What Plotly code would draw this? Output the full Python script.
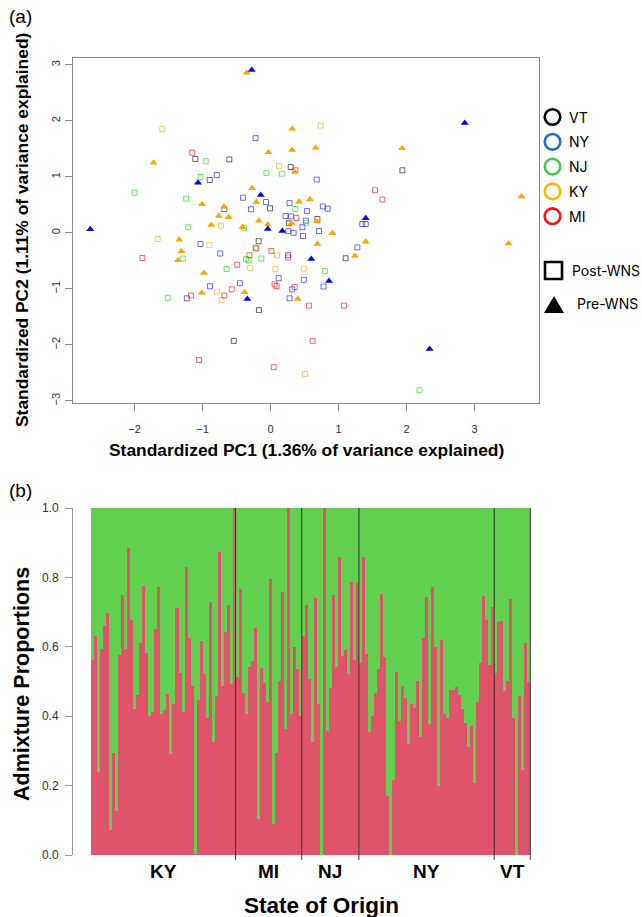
import plotly.graph_objects as go

W, H = 642, 917

# ---------------- Panel (a) PCA data ----------------
vt_post_pc1 = [-1.106, -0.606, 0.297, -0.894, -0.007, 0.27, 0.69, 1.94, -0.174, 1.105, -0.17, -0.54]
vt_post_pc2 = [1.32, 1.31, 1.175, 0.943, 0.437, 0.17, 0.246, 1.116, -0.15, -0.455, -1.38, -1.93]

ny_post_pc1 = [-0.22, -0.79, 0.68, -0.404, -0.066, -0.287, -0.68, 0.28, 0.536, 0.22, 0.30, 0.52,
               0.77, 0.84, 1.35, 1.40, 0.26, 0.34, 0.47, 0.478, 0.713, 1.277, 0.26, 0.78, 0.12,
               0.49, 0.32, 0.28, -1.03, -0.74, -0.45, -0.89, -1.23]
ny_post_pc2 = [1.69, 1.03, 0.95, 0.627, 0.55, 0.42, 0.425, 0.53, 0.39, 0.30, 0.294, 0.216,
               0.47, 0.43, 0.157, 0.157, 0.03, 0.0, 0.1, -0.057, 0.032, -0.26, -0.40, -0.96, -0.81,
               -0.84, -1.01, -1.17, -0.20, -0.37, -0.90, -0.955, -1.17]
ny_pre_pc1 = [-0.276, -1.066, -0.144, -0.04, 0.174, 1.40, 0.60, 0.86, -0.34, 2.856, 2.34, -2.65]
ny_pre_pc2 = [2.906, 0.895, 0.675, 0.07, 0.032, 0.26, -0.47, -0.86, -1.18, 1.96, -2.075, 0.065]

nj_post_pc1 = [-0.953, -0.06, 0.165, -1.03, -2.0, -1.24, -0.39, -1.21, 0.365, 0.52, -0.22,
               -0.36, -0.32, -0.135, 0.80, -1.29, -0.645, -1.51, 2.19]
nj_post_pc2 = [1.277, 1.07, 1.055, 0.996, 0.716, 0.61, 0.09, 0.10, 0.425, 0.18, -0.265,
               -0.47, -0.49, -0.46, -0.68, -0.46, -0.646, -1.16, -2.81]

mi_post_pc1 = [-1.15, 0.365, 0.38, 1.537, 1.645, -0.31, 0.012, 0.26, 0.06, 0.09, 0.356, 0.566,
               1.08, 0.62, 0.047, -1.885, -0.49, -0.57, -0.68, -1.17, -1.05, -0.21]
mi_post_pc2 = [1.43, 1.116, 0.264, 0.76, 0.595, -0.40, -0.325, -0.44, -0.92, -0.95, -0.97, -1.30,
               -1.30, -1.93, -2.40, -0.45, -0.57, -1.01, -1.12, -1.12, -2.27, -0.28]

ky_post_pc1 = [-1.59, 0.125, 0.738, -0.728, 0.096, -0.30, 0.07, 0.49, 0.51, -1.66, -0.90, -0.79, -0.72]
ky_post_pc2 = [1.85, 1.19, 1.915, 0.127, -0.40, -0.63, -0.646, -0.64, -2.52, -0.11, -0.22, -1.05, -1.20]
ky_pre_pc1 = [-0.35, -1.72, -0.03, 0.32, 0.316, 0.665, 0.356, -1.007, -0.27, -0.208, -0.684, -0.76,
              -0.615, -0.87, -0.41, -0.17, -0.04, 0.42, 0.58, 0.31, 0.685, 1.934, 3.69, 0.91, 0.69,
              1.40, 1.24, 3.50, 0.40, -0.38, -1.34, -1.31, -1.36, -0.98, -1.01]
ky_pre_pc2 = [2.86, 1.25, 1.44, 1.86, 1.48, 1.52, 1.086, 0.51, 0.795, 0.55, 0.466, 0.30,
              0.277, 0.14, 0.10, 0.216, 0.15, 0.556, 0.60, 0.17, 0.20, 1.51, 0.65, -0.01, -0.2,
              -0.16, -0.41, -0.19, -1.18, -1.06, -0.125, -0.33, -0.49, -0.72, -1.07]

pc_ticks_x = [-2, -1, 0, 1, 2, 3]
pc_ticks_y = [-3, -2, -1, 0, 1, 2, 3]

# ---------------- Panel (b) admixture data ----------------
states = ["KY", "MI", "NJ", "NY", "VT"]
ky_admix = [0.561, 0.632, 0.240, 0.593, 0.660, 0.696, 0.072, 0.295, 0.128, 0.576, 0.749, 0.595,
            0.886, 0.677, 0.422, 0.461, 0.612, 0.775, 0.583, 0.400, 0.411, 0.651, 0.772, 0.406,
            0.419, 0.464, 0.292, 0.435, 0.712, 0.525, 0.411, 0.830, 0.624, 0.486, 0.002, 0.447,
            0.618, 0.522, 0.396, 0.728, 0.327, 0.457, 0.874, 0.487, 0.642, 0.721, 0.493, 1.0]
mi_admix = [0.513, 0.766, 0.466, 0.406, 0.542, 0.559, 0.655, 0.103, 0.538, 0.497, 0.441, 0.795,
            0.088, 0.293, 0.502, 0.757, 0.362, 1.0, 0.406, 0.600, 0.537, 0.402]
nj_admix = [0.630, 0.721, 0.508, 0.327, 0.740, 0.435, 0.0, 1.0, 0.358, 0.482, 0.750, 0.543,
            0.859, 0.574, 0.591, 0.523, 0.786, 0.562, 0.785]
ny_admix = [0.554, 0.860, 0.579, 0.354, 0.401, 0.467, 0.536, 0.752, 0.571, 0.169, 0.0, 0.215,
            0.527, 0.385, 0.486, 0.452, 0.321, 0.434, 0.423, 0.501, 0.339, 0.626, 0.744, 0.378,
            0.772, 0.600, 0.199, 0.621, 0.406, 0.396, 0.475, 0.475, 0.484, 0.461, 0.420, 0.379,
            0.311, 0.371, 0.208, 0.441, 0.554, 0.745, 0.676, 0.548, 0.714]
vt_admix = [0.525, 0.671, 0.673, 0.474, 0.501, 0.738, 0.394, 0.0, 0.457, 0.245, 0.612, 0.500]
admix_ticks = [0.0, 0.2, 0.4, 0.6, 0.8, 1.0]

legend_states = ["VT", "NY", "NJ", "KY", "MI"]
legend_colors = ["#000000", "#1f6fc5", "#45c845", "#ffb800", "#ff1010"]

# ---------------- helpers ----------------
def px(X):
    return X / W

def py(Y):
    return 1 - Y / H

fig = go.Figure()

sq_groups = [
    (ky_post_pc1, ky_post_pc2, "rgba(255,165,0,0.6)"),
    (ny_post_pc1, ny_post_pc2, "rgba(0,0,255,0.58)"),
    (nj_post_pc1, nj_post_pc2, "rgba(0,225,0,0.6)"),
    (mi_post_pc1, mi_post_pc2, "rgba(255,0,0,0.6)"),
    (vt_post_pc1, vt_post_pc2, "rgba(0,0,0,0.6)"),
]
for xs, ys, col in sq_groups:
    fig.add_trace(go.Scatter(x=xs, y=ys, mode="markers", xaxis="x", yaxis="y",
                             marker=dict(symbol="square-open", size=5, color=col,
                                         line=dict(width=1, color=col)),
                             hoverinfo="skip"))
tri_groups = [
    (ky_pre_pc1, ky_pre_pc2, "#ffa500"),
    (ny_pre_pc1, ny_pre_pc2, "#0000ff"),
]
for xs, ys, col in tri_groups:
    fig.add_trace(go.Scatter(x=xs, y=ys, mode="markers", xaxis="x", yaxis="y",
                             marker=dict(symbol="triangle-up", size=7, color=col,
                                         line=dict(width=0)),
                             hoverinfo="skip"))

# ---------------- bars ----------------
groups = [ky_admix, mi_admix, nj_admix, ny_admix, vt_admix]
red_vals = [v for g in groups for v in g]
green_vals = [1 - v for v in red_vals]
idx = list(range(len(red_vals)))
fig.add_trace(go.Bar(x=idx, y=red_vals, xaxis="x2", yaxis="y2", marker=dict(color="#DF536B", line=dict(width=0)),
                     hoverinfo="skip"))
fig.add_trace(go.Bar(x=idx, y=green_vals, xaxis="x2", yaxis="y2", marker=dict(color="#61D04F", line=dict(width=0)),
                     hoverinfo="skip"))

shapes = []
annotations = []
start = 0
for name, g in zip(states, groups):
    end = start + len(g)
    shapes.append(dict(type="line", xref="x2", yref="y2 domain", x0=end - 0.5, x1=end - 0.5,
                       y0=-0.014, y1=1, line=dict(color="#333333", width=1)))
    annotations.append(dict(x=(start + end - 1) / 2, y=py(871), xref="x2", yref="paper",
                            text="<b>%s</b>" % name, showarrow=False,
                            xanchor="center", yanchor="middle",
                            font=dict(size=19, color="black", family="Liberation Sans, Arial")))
    start = end
n_total = start

# ---------------- axes ----------------
axis_font = dict(size=11, color="#333333", family="Liberation Sans, Arial")
x0_b = -0.5 - (91.3 - 73) / (439.0 / n_total)
x1_b = x0_b + (548 - 73) / (439.0 / n_total)

fig.update_layout(
    template="none",
    width=W, height=H, margin=dict(l=0, r=0, t=0, b=0, pad=0), autosize=False,
    paper_bgcolor="white", plot_bgcolor="white", showlegend=False,
    barmode="stack", bargap=0,
    xaxis=dict(domain=[px(73), px(539)], range=[(73 - 270.5) / 68, (539 - 270.5) / 68],
               tickvals=pc_ticks_x, ticks="outside", ticklen=7, tickcolor="#888888",
               showline=True, mirror=True, linecolor="#888888", linewidth=1,
               showgrid=False, zeroline=False, tickfont=axis_font, anchor="y",
               ticklabelstandoff=9, automargin=False),
    yaxis=dict(domain=[py(403), py(58)], range=[(232.8 - 403) / 56, (232.8 - 58) / 56],
               tickvals=pc_ticks_y, ticks="outside", ticklen=7, tickcolor="#888888",
               showline=True, mirror=True, linecolor="#888888", linewidth=1,
               showgrid=False, zeroline=False, tickfont=axis_font, tickangle=-90, anchor="x",
               ticklabelstandoff=1, automargin=False),
    xaxis2=dict(domain=[px(73), px(548)], range=[x0_b, x1_b], showticklabels=False,
                showline=False, showgrid=False, zeroline=False, ticks="", anchor="y2",
                automargin=False),
    yaxis2=dict(domain=[py(855), py(508)], range=[0, 1], tickvals=admix_ticks,
                ticktext=["%.1f" % t for t in admix_ticks], ticks="outside", ticklen=7,
                tickcolor="#999999", showline=True, linecolor="#999999", linewidth=1,
                showgrid=False, zeroline=False, anchor="x2",
                tickfont=dict(size=12, color="#333333", family="Liberation Sans, Arial"),
                ticklabelstandoff=4, automargin=False),
)

title_font = dict(size=17.4, color="black", family="Liberation Sans, Arial")
big_font = dict(size=22.5, color="black", family="Liberation Sans, Arial")
centered = dict(xref="paper", yref="paper", showarrow=False, xanchor="center", yanchor="middle")
annotations += [
    dict(x=px(21), y=py(17), text="(a)", font=dict(size=19, color="black", family="Liberation Sans, Arial"), **centered),
    dict(x=px(21), y=py(490), text="(b)", font=dict(size=19, color="black", family="Liberation Sans, Arial"), **centered),
    dict(x=px(306), y=py(450), text="<b>Standardized PC1 (1.36% of variance explained)</b>",
         font=title_font, **centered),
    dict(x=px(22), y=py(230), textangle=-90,
         text="<b>Standardized PC2 (1.11% of variance explained)</b>", font=title_font, **centered),
    dict(x=px(22), y=py(684), textangle=-90, text="<b>Admixture Proportions</b>",
         font=dict(size=21.5, color="black", family="Liberation Sans, Arial"), **centered),
    dict(x=px(322), y=py(905), text="<b>State of Origin</b>", font=big_font, **centered),
]

# ---------------- custom legend ----------------
leg_font = dict(size=14, color="black", family="Inter, Liberation Sans, Arial")
for i, (name, col) in enumerate(zip(legend_states, legend_colors)):
    yc = 117 + i * 24.8
    r = 7.8
    shapes.append(dict(type="circle", xref="paper", yref="paper",
                       x0=px(552.5 - r), x1=px(552.5 + r), y0=py(yc + r), y1=py(yc - r),
                       line=dict(color=col, width=2.6), fillcolor="rgba(0,0,0,0)"))
    annotations.append(dict(x=px(567), y=py(yc), xref="paper", yref="paper", text=name,
                            showarrow=False, xanchor="left", yanchor="middle", font=leg_font))
shapes.append(dict(type="rect", xref="paper", yref="paper",
                   x0=px(545), x1=px(562), y0=py(279), y1=py(262),
                   line=dict(color="black", width=2.6), fillcolor="rgba(0,0,0,0)"))
annotations.append(dict(x=px(570), y=py(270), xref="paper", yref="paper", text="Post-WNS",
                        showarrow=False, xanchor="left", yanchor="middle", font=leg_font))
shapes.append(dict(type="path", xref="paper", yref="paper",
                   path="M %f,%f L %f,%f L %f,%f Z" % (px(544), py(313), px(564), py(313), px(554), py(296)),
                   line=dict(color="black", width=0), fillcolor="black"))
annotations.append(dict(x=px(575), y=py(304), xref="paper", yref="paper", text="Pre-WNS",
                        showarrow=False, xanchor="left", yanchor="middle", font=leg_font))

fig.update_layout(shapes=shapes, annotations=annotations)

fig.write_html("out.html", config={"displayModeBar": False},
               post_script="document.body.style.margin='0';")
